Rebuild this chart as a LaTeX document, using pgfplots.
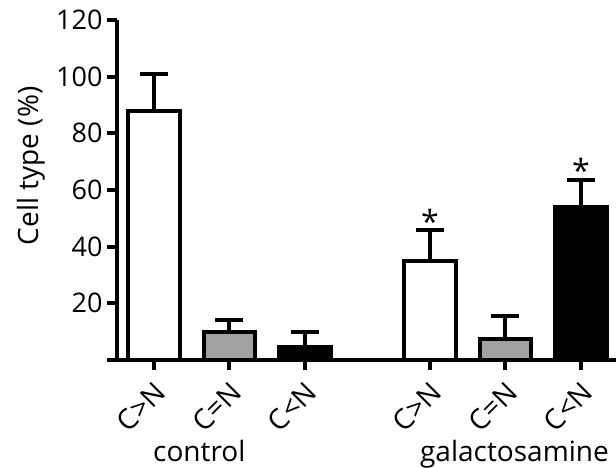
\documentclass[border=0pt]{standalone}
\usepackage{fontspec}
\setmainfont{Open Sans}
\usepackage{pgfplots}
\pgfplotsset{compat=1.18}
\begin{document}
\begin{tikzpicture}
\begin{axis}[
  scale only axis, width=499pt, height=340pt,
  xmin=-0.49, xmax=6.12, ymin=0, ymax=120,
  axis x line=bottom, axis y line=left,
  axis line style={-, line width=4pt, black},
  ytick={0,20,40,60,80,100,120},
  yticklabels={,20,40,60,80,100,120},
  xtick={0,1,2,3.656,4.656,5.656},
  xticklabels={C>N,C=N,C<N,C>N,C=N,C<N},
  tick align=outside, major tick length=10pt,
  tick style={line width=4pt, black},
  /pgf/number format/assume math mode=true,
  yticklabel style={font=\fontsize{27}{30}\selectfont, xshift=-1pt},
  xticklabel style={font=\fontsize{28}{30}\selectfont, rotate=45, anchor=north east, xshift=-4pt, yshift=-3pt},
  ylabel={Cell type (\%)},
  ylabel shift=4pt,
  ylabel style={font=\fontsize{28}{30}\selectfont, at={(ticklabel cs:0.571)}},
  clip=false,
  ybar, bar width=0.68, bar shift=0pt,
  error bars/y dir=plus, error bars/y explicit,
  error bars/error bar style={line width=4pt, black},
  error bars/error mark options={line width=4pt, black, mark size=14pt, rotate=90},
]
\addplot[draw=black, fill=white, line width=4pt] coordinates {
  (0,88) +- (0,13)
  (3.656,35) +- (0,11)
};
\addplot[draw=black, fill=black!37, line width=4pt] coordinates {
  (1,10) +- (0,4)
  (4.656,7.5) +- (0,8)
};
\addplot[draw=black, fill=black, line width=4pt] coordinates {
  (2,4.5) +- (0,5.5)
  (5.656,54) +- (0,9.6)
};
\node[font=\fontsize{32}{32}\selectfont] at (axis cs:3.656,49) {*};
\node[font=\fontsize{32}{32}\selectfont] at (axis cs:5.656,67) {*};
\node[font=\fontsize{28}{30}\selectfont, anchor=base, inner sep=0pt] at (axis cs:0.60,0) [yshift=-101pt] {control};
\node[font=\fontsize{28}{30}\selectfont, anchor=base, inner sep=0pt] at (axis cs:4.775,0) [yshift=-101pt] {galactosamine};
\end{axis}
\pgfresetboundingbox
\path (-117pt,-107pt) rectangle (499pt,360pt);
\end{tikzpicture}
\end{document}
